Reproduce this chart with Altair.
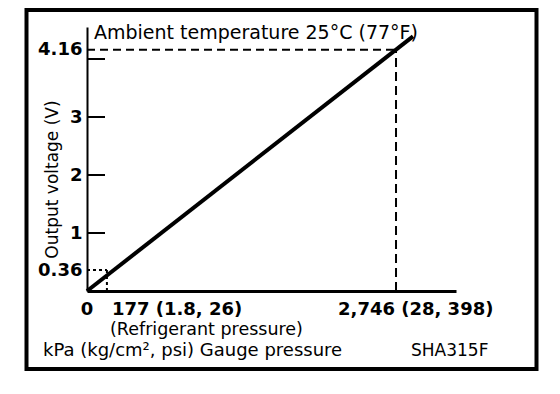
import altair as alt
import pandas as pd

FONT = "DejaVu Sans"

# ---- data ----
line_pressure = [0, 2897]          # kPa
line_voltage = [0, 4.39]           # V
guide_pressure = [177, 2746]       # kPa
guide_voltage = [0.36, 4.16]       # V
y_tick_values = [1, 2, 3, 4]
y_label_values = [0.36, 1, 2, 3, 4.16]
x_label_pos = [0, 177, 2746]
x_label_text = ["0", "177 (1.8, 26)", "2,746 (28, 398)"]
title_text = "Ambient temperature 25°C (77°F)"
y_title = "Output voltage (V)"
x_title = "(Refrigerant pressure)"
unit_text = "kPa (kg/cm², psi) Gauge pressure"
code_text = "SHA315F"

W, H = 369, 264
xs = alt.Scale(domain=[0, 3279], nice=False, zero=False)
ys = alt.Scale(domain=[0, 4.552], nice=False, zero=False)

x_axis = alt.Axis(labels=False, ticks=False, grid=False, title=None,
                  domainColor="black", domainWidth=3)
y_axis = alt.Axis(values=y_label_values, labelExpr="datum.value + ''",
                  ticks=False, grid=False,
                  domainColor="black", domainWidth=2,
                  labelFont=FONT, labelFontWeight="bold", labelFontSize=18,
                  labelColor="black", labelPadding=5, labelOverlap=False,
                  labelBaseline="middle",
                  title=y_title, titleFont=FONT, titleFontSize=17,
                  titleFontWeight="normal", titleColor="black",
                  titleAngle=270, titleX=-35, titleY=152,
                  titleAlign="center", titleBaseline="middle")


def X(f):
    return alt.X(f"{f}:Q", scale=xs, axis=x_axis)


def Y(f):
    return alt.Y(f"{f}:Q", scale=ys, axis=y_axis)


line_df = pd.DataFrame({"p": line_pressure, "v": line_voltage})
g_df = pd.DataFrame({"p": guide_pressure, "v": guide_voltage, "zero": [0, 0]})
tick_df = pd.DataFrame({"v": y_tick_values})
one = pd.DataFrame({"k": [0]})

main_line = alt.Chart(line_df).mark_line(color="black", strokeWidth=4).encode(
    x=X("p"), y=Y("v"))

hi = g_df.iloc[[1]]
lo = g_df.iloc[[0]]
hi_h = alt.Chart(hi).mark_rule(color="black", strokeWidth=2, strokeDash=[8, 5]).encode(
    x=X("zero"), x2="p:Q", y=Y("v"))
hi_v = alt.Chart(hi).mark_rule(color="black", strokeWidth=2, strokeDash=[9, 5]).encode(
    x=X("p"), y=Y("zero"), y2="v:Q")
lo_h = alt.Chart(lo).mark_rule(color="black", strokeWidth=2, strokeDash=[3, 3]).encode(
    x=X("zero"), x2="p:Q", y=Y("v"))
lo_v = alt.Chart(lo).mark_rule(color="black", strokeWidth=2, strokeDash=[3, 3]).encode(
    x=X("p"), y=Y("zero"), y2="v:Q")

ticks = alt.Chart(tick_df).mark_rule(color="black", strokeWidth=2).encode(
    y=Y("v"), x=alt.value(0), x2=alt.value(18))

xl_df = pd.DataFrame({"p": x_label_pos, "t": x_label_text})
xl_offsets = [(0, "center"), (5, "left"), (-58, "left")]
x_label_layers = []
for i, (dx, al) in enumerate(xl_offsets):
    x_label_layers.append(
        alt.Chart(xl_df.iloc[[i]]).mark_text(
            font=FONT, fontSize=18, fontWeight="bold", color="black",
            align=al, baseline="alphabetic", dx=dx
        ).encode(x=X("p"), y=alt.value(287.5), text="t:N"))


def label(txt, x, y, size=18, align="left", baseline="alphabetic"):
    return alt.Chart(one).mark_text(
        font=FONT, fontSize=size, color="black", align=align, baseline=baseline,
        text=txt
    ).encode(x=alt.value(x), y=alt.value(y))


title = label(title_text, 7, 12, size=19)
xt = label(x_title, 23, 307.5, size=17.5)
unit = label(unit_text, -44, 328.5)
code = label(code_text, 324, 328.5, size=17)

border = alt.Chart(one).mark_rect(filled=False, stroke="black", strokeWidth=4).encode(
    x=alt.value(-60.5), x2=alt.value(449.5), y=alt.value(-17), y2=alt.value(342))

chart = alt.layer(
    main_line, hi_h, hi_v, lo_h, lo_v, ticks, *x_label_layers,
    title, xt, unit, code, border
).properties(
    width=W, height=H,
    autosize=alt.AutoSizeParams(type="none"),
    padding={"left": 79, "top": 19, "right": 96, "bottom": 95},
    background="white",
).configure_view(stroke=None)

chart.save("out.html", embed_options={"renderer": "svg", "actions": False})
